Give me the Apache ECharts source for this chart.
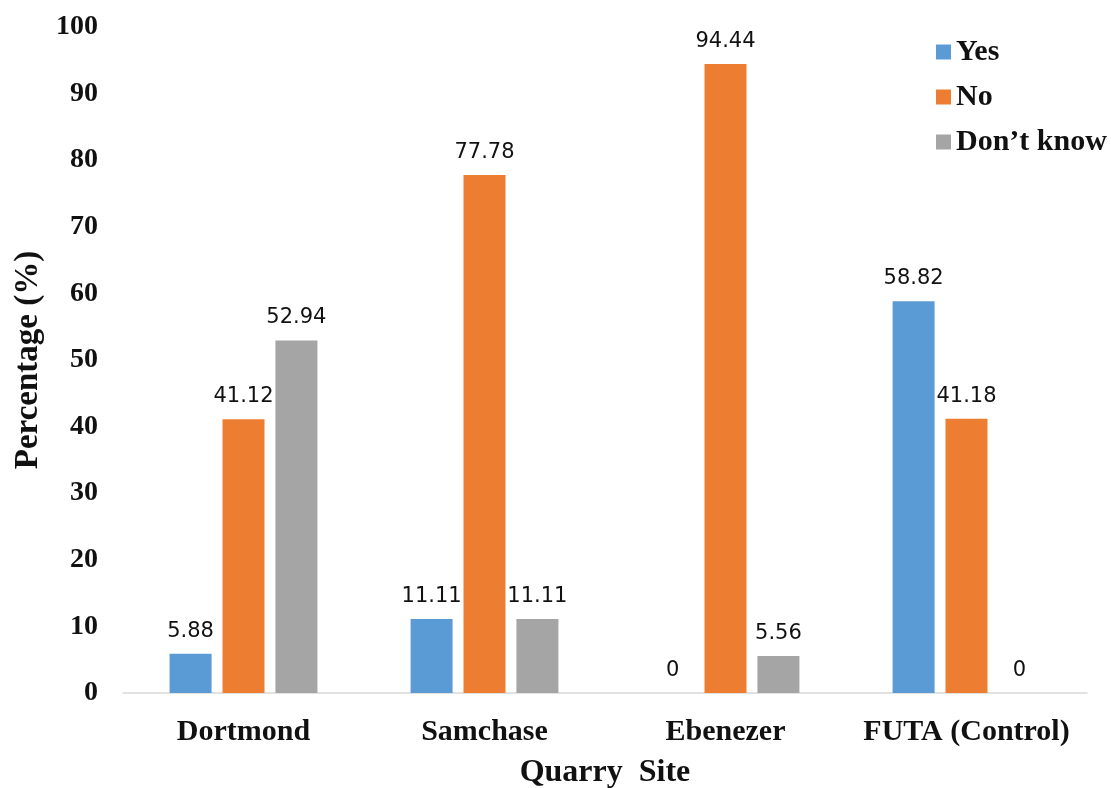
<!DOCTYPE html>
<html>
<head>
<meta charset="utf-8">
<script src="https://cdn.jsdelivr.net/npm/echarts@6/dist/echarts.min.js"></script>
<style>
  html, body { margin: 0; padding: 0; background: #fff; }
  #chart { width: 1111px; height: 788px; }
</style>
</head>
<body>
<div id="chart"></div>
<script>
// Quarry sites and response shares (%)
const sites = ['Dortmond', 'Samchase', 'Ebenezer', 'FUTA (Control)'];
const yesValues = [5.88, 11.11, 0, 58.82];
const noValues = [41.12, 77.78, 94.44, 41.18];
const dontKnowValues = [52.94, 11.11, 5.56, 0];
const seriesNames = ['Yes', 'No', 'Don\u2019t know'];
const yTicks = { min: 0, max: 100, interval: 10 };

const serif = '"Liberation Serif", "Times New Roman", serif';
const sans = '"DejaVu Sans", Verdana, sans-serif';
const colors = ['#5B9BD5', '#ED7D31', '#A5A5A5'];

function barSeries(name, data, color) {
  return {
    name: name,
    type: 'bar',
    data: data,
    barWidth: 42,
    barGap: '26%',
    itemStyle: { color: color },
    label: {
      show: true,
      position: 'top',
      distance: 12,
      color: '#111',
      fontFamily: sans,
      fontSize: 21
    }
  };
}

const chart = echarts.init(document.getElementById('chart'));
chart.setOption({
  animation: false,
  color: colors,
  grid: {
    left: 123, right: 24, top: 27, bottom: 95,
    containLabel: false,
    outerBoundsMode: 'none'
  },
  legend: {
    orient: 'vertical',
    left: 931,
    top: 32,
    itemWidth: 15,
    itemHeight: 15,
    itemGap: 15,
    icon: 'rect',
    textStyle: { fontFamily: serif, fontWeight: 'bold', fontSize: 30, color: '#111' },
    data: seriesNames
  },
  xAxis: {
    type: 'category',
    data: sites,
    name: 'Quarry  Site',
    nameLocation: 'middle',
    nameGap: 64,
    nameTextStyle: { fontFamily: serif, fontWeight: 'bold', fontSize: 32, color: '#111' },
    axisLine: { lineStyle: { color: '#D9D9D9', width: 1.5 } },
    axisTick: { show: false },
    axisLabel: { interval: 0, fontFamily: serif, fontWeight: 'bold', fontSize: 30, color: '#111', margin: 24 }
  },
  yAxis: {
    type: 'value',
    min: yTicks.min,
    max: yTicks.max,
    interval: yTicks.interval,
    name: 'Percentage (%)',
    nameLocation: 'middle',
    nameGap: 74,
    nameTextStyle: { fontFamily: serif, fontWeight: 'bold', fontSize: 33, color: '#111' },
    axisLine: { show: false },
    axisTick: { show: false },
    splitLine: { show: false },
    axisLabel: { fontFamily: serif, fontWeight: 'bold', fontSize: 28, color: '#111', margin: 25 }
  },
  series: [
    barSeries(seriesNames[0], yesValues, colors[0]),
    barSeries(seriesNames[1], noValues, colors[1]),
    barSeries(seriesNames[2], dontKnowValues, colors[2])
  ]
});
</script>
</body>
</html>
